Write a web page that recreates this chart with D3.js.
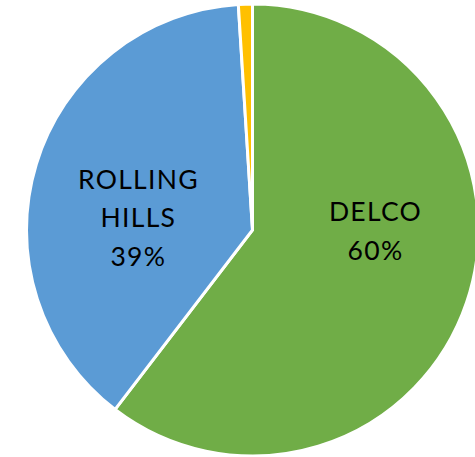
<!DOCTYPE html>
<html><head><meta charset="utf-8">
<script src="https://cdn.jsdelivr.net/npm/d3@7"></script>
<style>body{margin:0;background:#fff}svg{display:block}</style>
</head><body>
<svg id="c" width="475" height="457"></svg>
<script>
const categories = ["DELCO", "ROLLING HILLS", "OTHER"];
const values = [60.4, 38.6, 1.0];
const labels = [["DELCO", "60%"], ["ROLLING", "HILLS", "39%"], []];
const colors = ["#70AD47", "#5B9BD5", "#FFC000"];

const svg = d3.select("#c");
const cx = 252.5, cy = 230, r = 226;
const g = svg.append("g").attr("transform", `translate(${cx},${cy})`);
const pie = d3.pie().sort(null).value(d => d)(values);
const arc = d3.arc().innerRadius(0).outerRadius(r);
g.selectAll("path").data(pie).join("path")
  .attr("d", arc)
  .attr("fill", (d, i) => colors[i])
  .attr("stroke", "#fff").attr("stroke-width", 3).attr("stroke-linejoin", "miter");

const labelArc = d3.arc().innerRadius(0).outerRadius(r);
const shifts = [[16, -34], [-6, 22], [0, 0]];
const lineH = 38.5;
pie.forEach((d, i) => {
  const lines = labels[i];
  if (!lines.length) return;
  const c = labelArc.centroid(d);
  const x = c[0] + shifts[i][0], y = c[1] + shifts[i][1];
  const t = g.append("text").attr("text-anchor", "middle")
    .attr("font-family", "Lato, 'Open Sans', sans-serif").attr("font-size", 26.5)
    .attr("letter-spacing", 1.3).attr("fill", "#000");
  const y0 = y - (lines.length - 1) * lineH / 2 + 8;
  lines.forEach((s, k) => t.append("tspan").attr("x", x).attr("y", y0 + k * lineH).text(s));
});
</script>
</body></html>
